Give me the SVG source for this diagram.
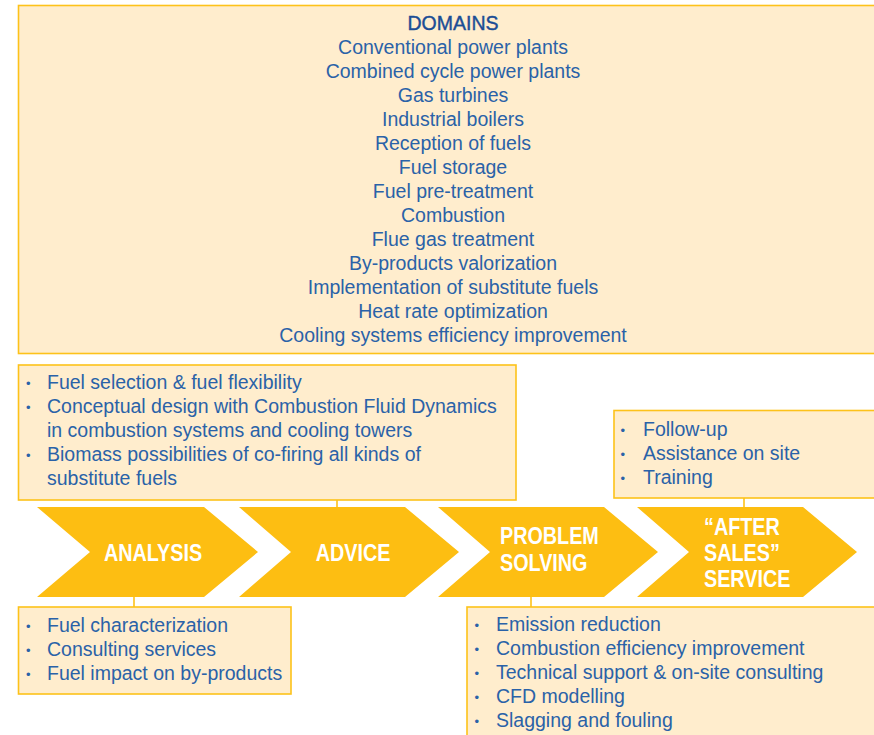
<svg xmlns="http://www.w3.org/2000/svg" width="874" height="735" viewBox="0 0 874 735">
<style>
.box{fill:#FFEDCD;stroke:#FDC21A;stroke-width:1.6}
.t{font-family:"Liberation Sans",Arial,sans-serif;font-size:19.5px;fill:#2A62A8}
.c{text-anchor:middle}
.h{fill:#1B4D95;stroke:#1B4D95;stroke-width:0.4}
.b{font-family:"Liberation Sans",Arial,sans-serif;font-size:13px;fill:#2A62A8}
.chev{fill:#FDBE12}
.cl{font-family:"Liberation Sans",Arial,sans-serif;font-size:23px;font-weight:bold;fill:#FFFFFF}
.ln{stroke:#FDC21A;stroke-width:1.6;fill:none}
</style>
<g id="domains">
<rect class="box" x="18.5" y="5.5" width="870" height="348"/>
<text class="t c h" x="453" y="30">DOMAINS</text>
<text class="t c" x="453" y="54">Conventional power plants</text>
<text class="t c" x="453" y="78">Combined cycle power plants</text>
<text class="t c" x="453" y="102">Gas turbines</text>
<text class="t c" x="453" y="126">Industrial boilers</text>
<text class="t c" x="453" y="150">Reception of fuels</text>
<text class="t c" x="453" y="174">Fuel storage</text>
<text class="t c" x="453" y="198">Fuel pre-treatment</text>
<text class="t c" x="453" y="222">Combustion</text>
<text class="t c" x="453" y="246">Flue gas treatment</text>
<text class="t c" x="453" y="270">By-products valorization</text>
<text class="t c" x="453" y="294">Implementation of substitute fuels</text>
<text class="t c" x="453" y="318">Heat rate optimization</text>
<text class="t c" x="453" y="342">Cooling systems efficiency improvement</text>
</g>
<g id="advice-box">
<rect class="box" x="18.5" y="365" width="497.5" height="135"/>
<text class="b" x="26" y="388">•</text><text class="t" x="47" y="389">Fuel selection &amp; fuel flexibility</text>
<text class="b" x="26" y="412">•</text><text class="t" x="47" y="413">Conceptual design with Combustion Fluid Dynamics</text>
<text class="t" x="47" y="437">in combustion systems and cooling towers</text>
<text class="b" x="26" y="460">•</text><text class="t" x="47" y="461">Biomass possibilities of co-firing all kinds of</text>
<text class="t" x="47" y="485">substitute fuels</text>
</g>
<g id="after-sales-box">
<rect class="box" x="614" y="410.5" width="270" height="87.5"/>
<text class="b" x="620.5" y="435">•</text><text class="t" x="643" y="436">Follow-up</text>
<text class="b" x="620.5" y="459">•</text><text class="t" x="643" y="460">Assistance on site</text>
<text class="b" x="620.5" y="483">•</text><text class="t" x="643" y="484">Training</text>
</g>
<g id="analysis-box">
<rect class="box" x="18.5" y="607" width="272.5" height="87"/>
<text class="b" x="26" y="631">•</text><text class="t" x="47" y="632">Fuel characterization</text>
<text class="b" x="26" y="655">•</text><text class="t" x="47" y="656">Consulting services</text>
<text class="b" x="26" y="679">•</text><text class="t" x="47" y="680">Fuel impact on by-products</text>
</g>
<g id="problem-box">
<rect class="box" x="467" y="607" width="420" height="140"/>
<text class="b" x="474.5" y="630">•</text><text class="t" x="496" y="631">Emission reduction</text>
<text class="b" x="474.5" y="654">•</text><text class="t" x="496" y="655">Combustion efficiency improvement</text>
<text class="b" x="474.5" y="678">•</text><text class="t" x="496" y="679">Technical support &amp; on-site consulting</text>
<text class="b" x="474.5" y="702">•</text><text class="t" x="496" y="703">CFD modelling</text>
<text class="b" x="474.5" y="726">•</text><text class="t" x="496" y="727">Slagging and fouling</text>
</g>
<g id="connectors">
<line class="ln" x1="337" y1="500" x2="337" y2="507"/>
<line class="ln" x1="744" y1="498" x2="744" y2="507"/>
<line class="ln" x1="134" y1="597" x2="134" y2="607"/>
<line class="ln" x1="531" y1="597" x2="531" y2="607"/>
</g>
<g id="analysis">
<polygon class="chev" points="37,507 204,507 258,552 204,597 37,597 90,552"/>
<text class="cl c" transform="translate(153,561) scale(0.86,1)">ANALYSIS</text>
</g>
<g id="advice">
<polygon class="chev" points="239,507 405,507 459,552 405,597 239,597 291,552"/>
<text class="cl c" transform="translate(353,561) scale(0.86,1)">ADVICE</text>
</g>
<g id="problem-solving">
<polygon class="chev" points="438,507 604,507 658,552 604,597 438,597 490,552"/>
<text class="cl" transform="translate(500,544) scale(0.86,1)">PROBLEM</text>
<text class="cl" transform="translate(500,571) scale(0.86,1)">SOLVING</text>
</g>
<g id="after-sales-service">
<polygon class="chev" points="637,507 803,507 857,552 803,597 637,597 689,552"/>
<text class="cl" transform="translate(704,535) scale(0.86,1)">“AFTER</text>
<text class="cl" transform="translate(704,561) scale(0.86,1)">SALES”</text>
<text class="cl" transform="translate(704,587) scale(0.86,1)">SERVICE</text>
</g>
</svg>
